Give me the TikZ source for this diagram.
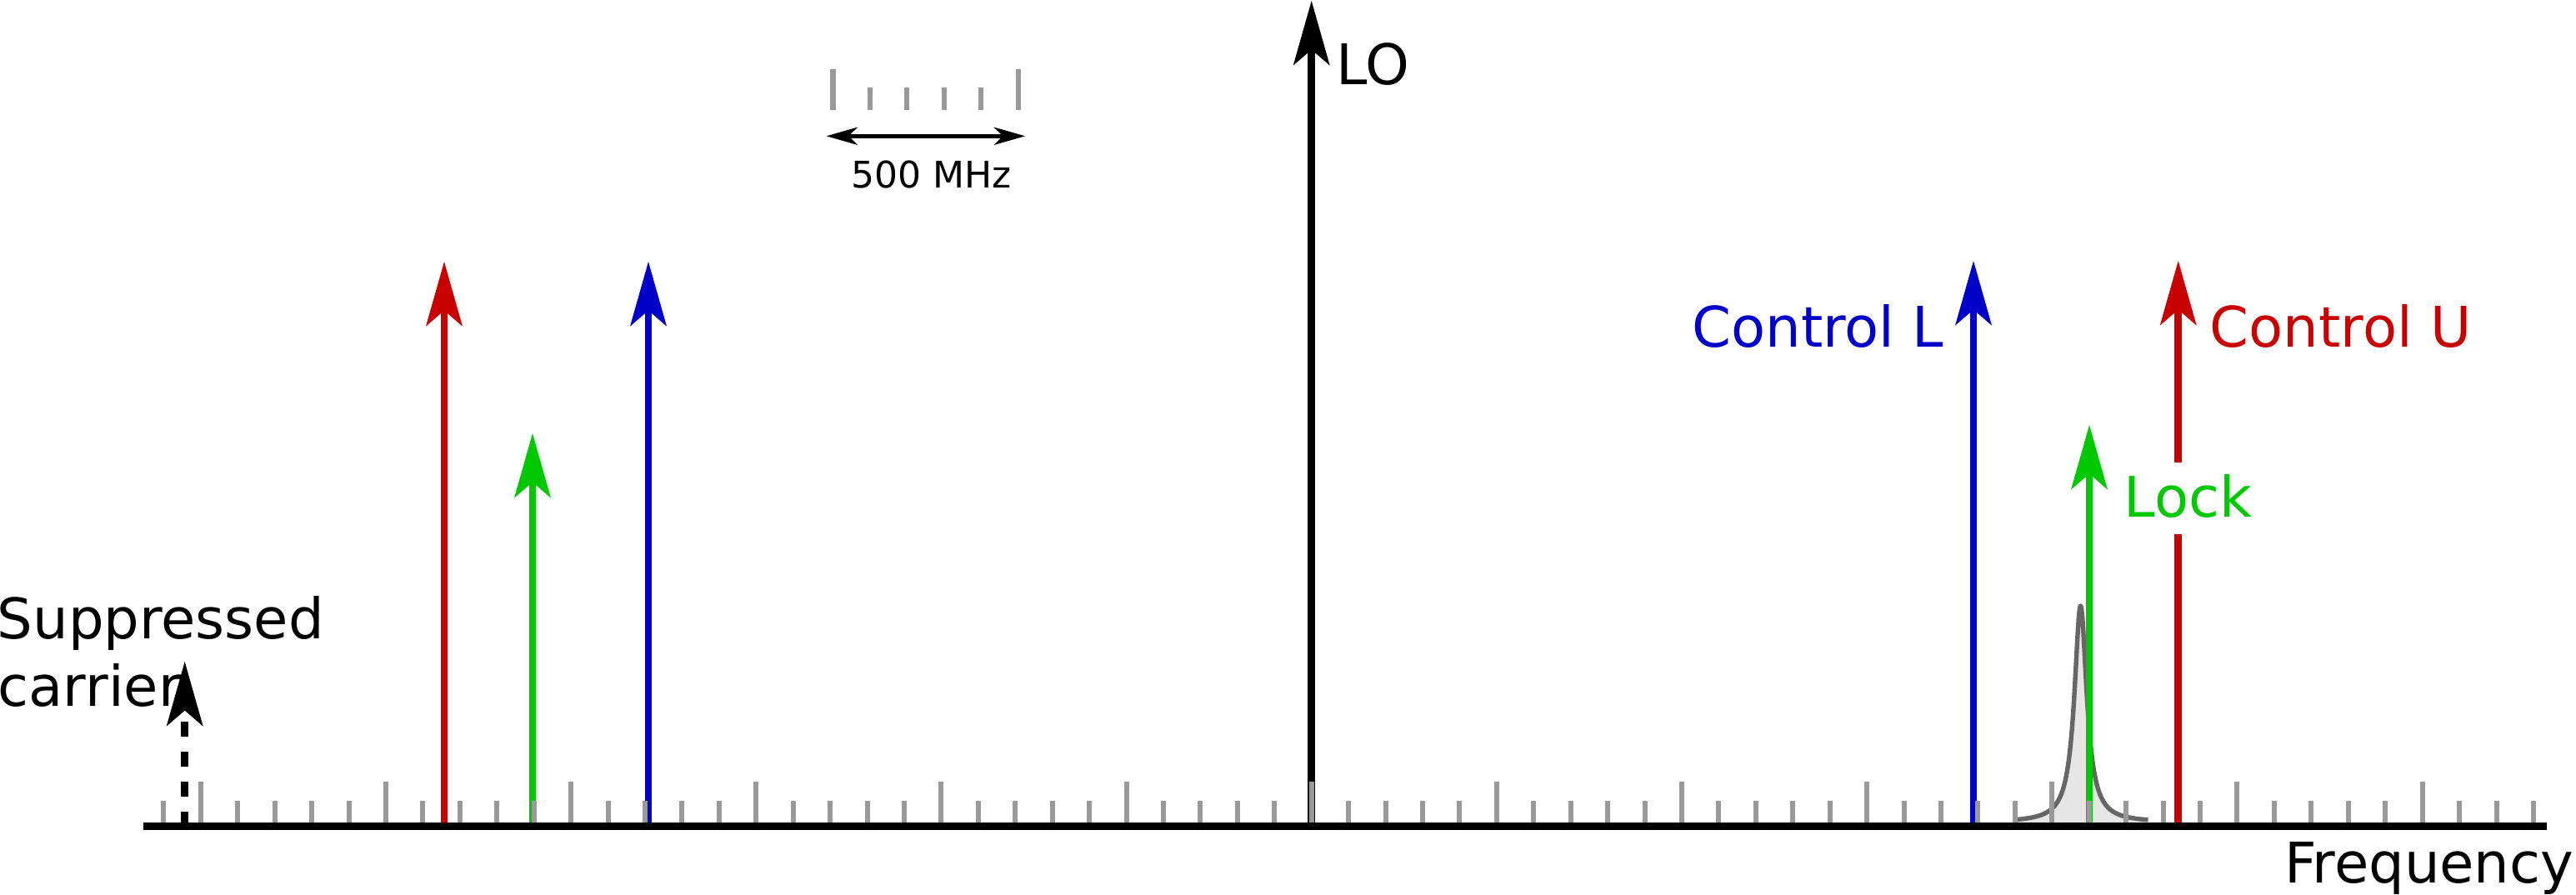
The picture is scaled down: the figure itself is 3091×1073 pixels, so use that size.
\documentclass[tikz,border=0pt]{standalone}
\usepackage{fontspec}
\setmainfont{DejaVu Sans}
\usetikzlibrary{arrows.meta}
\definecolor{sigred}{RGB}{200,0,0}
\definecolor{sigblue}{RGB}{0,0,200}
\definecolor{siggreen}{RGB}{0,200,0}
\definecolor{tickgray}{RGB}{153,153,153}
\definecolor{peakfill}{RGB}{230,230,230}
\definecolor{peakline}{RGB}{102,102,102}
\tikzset{
  sig/.style={line width=2.2pt, -{Stealth[length=19.4pt,width=11pt,inset=4.75pt,line width=0pt]}},
  sigdash/.style={sig, dash pattern=on 4.5pt off 4.5pt},
  tickmark/.style={tickgray, line width=1.5pt},
  axisline/.style={black, line width=2.25pt},
  scalearrow/.style={line width=1.2pt, {Stealth[length=9.4pt,width=5.4pt,inset=2.75pt,line width=0pt]}-{Stealth[length=9.4pt,width=5.4pt,inset=2.75pt,line width=0pt]}},
  lbl/.style={inner sep=0pt, font=\fontsize{16.8pt}{20pt}\selectfont},
  smalllbl/.style={inner sep=0pt, font=\fontsize{11pt}{13pt}\selectfont},
}
\begin{document}
\begin{tikzpicture}[x=0.25pt, y=-0.25pt]
\useasboundingbox (0,0) rectangle (3091,1073);

% axis coordinates
\coordinate (axL) at (172,991.5);
\coordinate (axR) at (3055.5,991.5);

% Lorentzian peak
\fill[peakfill] (2420.5,987) -- plot[domain=-76:81, samples=321] ({2496.5+\x},{987-260/(1+(\x/9)^2)}) -- (2577.5,987) -- cycle;
\draw[peakline, line width=1.35pt, line join=round] plot[domain=-76:81, samples=321] ({2496.5+\x},{987-260/(1+(\x/9)^2)});

% arrow end points
\coordinate (supB) at (221.7,991.5);   \coordinate (supT) at (221.7,794);
\coordinate (redLB) at (533,991.5);    \coordinate (redLT) at (533,314);
\coordinate (grnLB) at (639,991.5);    \coordinate (grnLT) at (639,520);
\coordinate (bluLB) at (778,991.5);    \coordinate (bluLT) at (778,314);
\coordinate (loB) at (1573.7,991.5);   \coordinate (loT) at (1573.7,1);
\coordinate (bluRB) at (2368,991.5);   \coordinate (bluRT) at (2368,313);
\coordinate (grnRB) at (2507,991.5);   \coordinate (grnRT) at (2507,510);
\coordinate (redRB) at (2613.7,991.5); \coordinate (redRT) at (2613.7,313);

% arrows
\draw[sigdash, black] (supB) -- (supT);
\draw[sig, sigred] (redLB) -- (redLT);
\draw[sig, siggreen] (grnLB) -- (grnLT);
\draw[sig, sigblue] (bluLB) -- (bluLT);
\draw[sig, black] (loB) -- (loT);
\draw[sig, sigblue] (bluRB) -- (bluRT);
\draw[sig, siggreen] (grnRB) -- (grnRT);
\draw[sig, sigred] (redRB) -- (redRT);

% frequency ticks
\foreach \k in {-31,...,33} {
  \pgfmathsetmacro{\tx}{1573.7+\k*44.43}
  \pgfmathtruncatemacro{\islong}{mod(abs(\k),5)==0 ? 1 : 0}
  \ifnum\islong=1
    \draw[tickmark] (\tx,991.5) -- (\tx,938);
  \else
    \draw[tickmark] (\tx,991.5) -- (\tx,961);
  \fi
}

% axis
\draw[axisline] (axL) -- (axR);

% scale bar
\foreach \i in {0,...,5} {
  \pgfmathsetmacro{\sx}{999.3+\i*44.48}
  \ifnum\i=0
    \draw[tickmark, line width=1.6pt] (\sx,132) -- (\sx,83);
  \else\ifnum\i=5
    \draw[tickmark, line width=1.6pt] (\sx,132) -- (\sx,83);
  \else
    \draw[tickmark, line width=1.6pt] (\sx,132) -- (\sx,105);
  \fi\fi
}
\coordinate (sbL) at (991.7,163.3);
\coordinate (sbR) at (1230,163.3);
\draw[scalearrow] (sbL) -- (sbR);
\node[smalllbl, anchor=base] (mhz) at (1118,225) {500 MHz};

% labels
\node[lbl, anchor=base west] (sup1) at (-4,766) {Suppressed};
\node[lbl, anchor=base west] (sup2) at (-3,847) {carrier};
\node[lbl, anchor=base west] (lo) at (1603,101) {LO};
\node[lbl, sigblue, anchor=base east] (ctlL) at (2333,416) {Control L};
\node[lbl, sigred, anchor=base west] (ctlU) at (2651,416) {Control U};
\node[lbl, siggreen, anchor=base west, fill=white, text height=16.25pt, text depth=5.25pt] (lock) at (2548,620) {Lock};
\node[lbl, anchor=base east] (freq) at (3089,1059) {Frequency};
\end{tikzpicture}
\end{document}
